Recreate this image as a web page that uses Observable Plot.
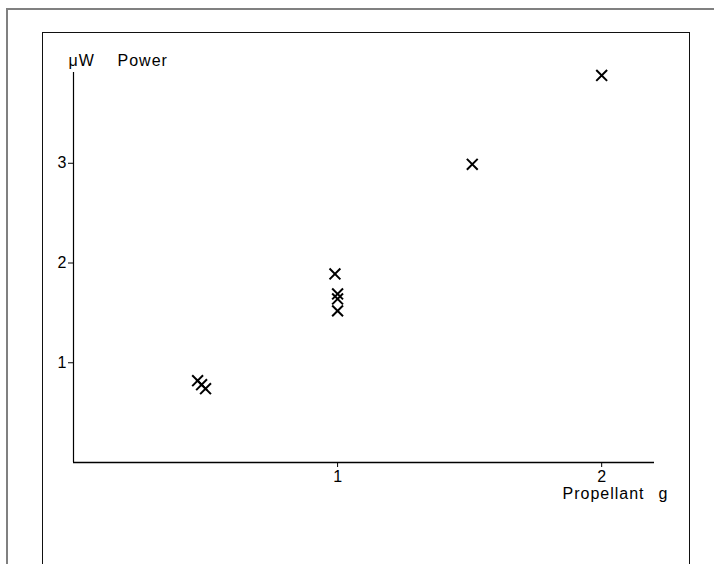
<!DOCTYPE html>
<html><head><meta charset="utf-8">
<script src="https://cdn.jsdelivr.net/npm/d3@7"></script>
<script src="https://cdn.jsdelivr.net/npm/@observablehq/plot@0.6"></script>
<style>
body{margin:0;background:#fff;}
#wrap{position:relative;width:714px;height:564px;overflow:hidden;background:#fff;}
.outer{position:absolute;left:6px;top:8px;width:720px;height:600px;border-left:2px solid #808080;border-top:2px solid #808080;}
.inner{position:absolute;left:42px;top:32px;width:646px;height:600px;border:1.5px solid #111;}
#chart{position:absolute;left:0;top:0;}
</style></head><body>
<div id="wrap"><div class="outer"></div><div class="inner"></div><div id="chart"></div></div>
<script>
const propellant = [0.47, 0.485, 0.50, 0.99, 1.0, 1.0, 1.0, 1.51, 2.0];
const power      = [0.82, 0.78, 0.74, 1.89, 1.69, 1.64, 1.52, 2.99, 3.88];
const xTicks = [1, 2];
const yTicks = [1, 2, 3];
const yUnit = "\u03bcW";
const yLabel = "Power";
const xLabel = "Propellant";
const xUnit = "g";

const data = propellant.map((p, i) => ({propellant: p, power: power[i]}));

const chart = Plot.plot({
  width: 714, height: 564,
  marginLeft: 73, marginRight: 60, marginTop: 72, marginBottom: 102,
  x: {domain: [0, 2.2]},
  y: {domain: [0, 3.91]},
  style: {fontFamily: "'Liberation Sans', Arial, sans-serif", fontSize: "16px", color: "#000", background: "transparent", overflow: "visible"},
  marks: [
    Plot.ruleY([0], {stroke: "#000", strokeWidth: 1.6}),
    Plot.ruleX([0], {stroke: "#000", strokeWidth: 1.2}),
    Plot.axisY({ticks: yTicks, tickFormat: "d", tickSize: 5, tickPadding: 2, label: null, fontSize: 16}),
    Plot.axisX({ticks: xTicks, tickFormat: "d", tickSize: 5, tickPadding: 3, label: null, fontSize: 16}),
    Plot.dot(data, {x: "propellant", y: "power", symbol: "times", r: 5, stroke: "#000", strokeWidth: 2}),
    Plot.text([yUnit], {frameAnchor: "top-left", dx: -5, dy: -7, textAnchor: "start", lineAnchor: "bottom", fontSize: 16}),
    Plot.text([yLabel], {frameAnchor: "top-left", dx: 44, dy: -7, textAnchor: "start", lineAnchor: "bottom", fontSize: 16}),
    Plot.text([xLabel], {frameAnchor: "bottom-right", dx: -92, dy: 36, textAnchor: "start", lineAnchor: "bottom", fontSize: 16}),
    Plot.text([xUnit], {frameAnchor: "bottom-right", dx: 4, dy: 36, textAnchor: "start", lineAnchor: "bottom", fontSize: 16})
  ]
});
d3.select(chart).selectAll("g[aria-label=text] text").attr("letter-spacing", "1px");
document.getElementById("chart").appendChild(chart);
</script>
</body></html>
